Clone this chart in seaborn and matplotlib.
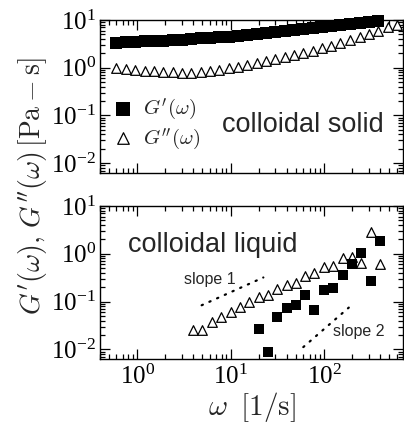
import matplotlib
matplotlib.use("Agg")
import matplotlib.pyplot as plt
import seaborn as sns
import pandas as pd
from matplotlib.ticker import LogLocator, NullFormatter, LogFormatterSciNotation

# ---------------- data ----------------
solid_freq = [0.6, 0.76, 0.95, 1.2, 1.5, 1.9, 2.4, 3.0, 3.8, 4.8, 6.0, 7.6, 9.5,
              12, 15, 19, 24, 30, 38, 48, 60, 76, 95, 120, 150, 190, 240, 300,
              380, 480, 600]
solid_storage = [3.3, 3.4, 3.5, 3.55, 3.6, 3.7, 3.8, 3.9, 4.0, 4.1, 4.2, 4.35,
                 4.45, 4.6, 4.8, 5.0, 5.25, 5.5, 5.75, 6.1, 6.45, 6.75, 7.1,
                 7.4, 7.75, 8.1, 8.5, 8.9, 9.5]
solid_loss = [0.98, 0.93, 0.89, 0.87, 0.85, 0.83, 0.81, 0.79, 0.78, 0.81, 0.87,
              0.91, 0.98, 1.05, 1.12, 1.23, 1.38, 1.55, 1.7, 1.84, 2.0, 2.2,
              2.55, 2.9, 3.3, 3.8, 4.4, 5.1, 5.8, 7.0, 7.8]

liquid_freq_loss = [4.0, 5.0, 6.3, 7.9, 10, 12.6, 15.8, 20, 25, 31.6, 40, 50,
                    63, 79, 100, 126, 158, 200, 251, 316, 398]
liquid_loss = [0.025, 0.026, 0.037, 0.048, 0.06, 0.078, 0.099, 0.126, 0.136,
               0.18, 0.22, 0.25, 0.34, 0.39, 0.52, 0.55, 0.8, 0.86, 0.63, 2.9,
               0.61]
liquid_freq_storage = [20, 25, 31.6, 40, 50, 63, 79, 100, 126, 158, 200, 251,
                       316, 398]
liquid_storage = [0.027, 0.0089, 0.047, 0.072, 0.084, 0.141, 0.068, 0.174,
                  0.197, 0.357, 0.61, 1.05, 0.27, 1.85]

slope1_x = [4.9, 22.4]
slope1_y = [0.084, 0.32]
slope2_x = [60, 184]
slope2_y = [0.0112, 0.075]

legend_labels = [r"$G'(\omega)$", r"$G''(\omega)$"]
panel_titles = ["colloidal solid", "colloidal liquid"]
slope_labels = ["slope 1", "slope 2"]
x_label = r"$\omega\;\;[1/\mathrm{s}]$"
y_label = r"$G'(\omega),\, G''(\omega)\,[\mathrm{Pa}-\mathrm{s}]$"

# ---------------- style ----------------
sns.set_theme(style="ticks")
plt.rcParams["font.family"] = ["Liberation Serif", "DejaVu Serif"]
plt.rcParams["mathtext.fontset"] = "cm"
plt.rcParams["axes.edgecolor"] = "black"
plt.rcParams["axes.linewidth"] = 1.0
plt.rcParams["xtick.color"] = "black"
plt.rcParams["ytick.color"] = "black"

fig = plt.figure(figsize=(4.04, 4.37), dpi=100)
ax1 = fig.add_axes([0.2475, 0.6048, 0.75, 0.3494])
ax2 = fig.add_axes([0.2475, 0.1785, 0.75, 0.3500], sharex=ax1)

band_s = 80
sq_s = 62
tri_s = 48

# top panel
df_sp = pd.DataFrame({"w": solid_freq[:len(solid_storage)], "G": solid_storage})
df_sl = pd.DataFrame({"w": solid_freq, "G": solid_loss})
sns.scatterplot(data=df_sp, x="w", y="G", marker="s", s=band_s, color="black",
                linewidth=0, ax=ax1, label=legend_labels[0], clip_on=False, zorder=3)
sns.scatterplot(data=df_sl, x="w", y="G", marker="^", s=tri_s, color="white",
                edgecolor="black", linewidth=0.9, ax=ax1, label=legend_labels[1],
                clip_on=False, zorder=3)

# bottom panel
df_ll = pd.DataFrame({"w": liquid_freq_loss, "G": liquid_loss})
df_ls = pd.DataFrame({"w": liquid_freq_storage, "G": liquid_storage})
sns.scatterplot(data=df_ll, x="w", y="G", marker="^", s=tri_s, color="white",
                edgecolor="black", linewidth=0.9, ax=ax2, zorder=3)
sns.scatterplot(data=df_ls, x="w", y="G", marker="s", s=sq_s, color="black",
                linewidth=0, ax=ax2, zorder=3)
for sx, sy in ((slope1_x, slope1_y), (slope2_x, slope2_y)):
    sns.lineplot(x=sx, y=sy, ax=ax2, color="black", lw=1.6,
                 linestyle=(0, (0.6, 3.2)), dash_capstyle="round", zorder=2)

for ax in (ax1, ax2):
    ax.set_xscale("log")
    ax.set_yscale("log")
    ax.set_xlim(0.4, 700)
    ax.set_ylim(10 ** -2.2, 10)
    ax.xaxis.set_major_locator(LogLocator(base=10, numticks=10))
    ax.xaxis.set_minor_locator(LogLocator(base=10, subs=range(2, 10), numticks=20))
    ax.yaxis.set_major_locator(LogLocator(base=10, numticks=10))
    ax.yaxis.set_minor_locator(LogLocator(base=10, subs=range(2, 10), numticks=20))
    ax.xaxis.set_minor_formatter(NullFormatter())
    ax.yaxis.set_minor_formatter(NullFormatter())
    ax.yaxis.set_major_formatter(LogFormatterSciNotation())
    ax.tick_params(which="both", direction="in", top=True, right=True,
                   width=0.9, labelsize=18)
    ax.tick_params(which="major", length=7, pad=3)
    ax.tick_params(which="minor", length=3.5)
    ax.set_xlabel("")
    ax.set_ylabel("")
    for sp in ax.spines.values():
        sp.set_visible(True)
        sp.set_color("black")

ax1.tick_params(labelbottom=False)
ax2.tick_params(axis="x", pad=4)
ax2.xaxis.set_major_formatter(LogFormatterSciNotation())

leg = ax1.legend(loc="center left", bbox_to_anchor=(0.04, 0.32), frameon=False,
                 fontsize=15, handlelength=1.0, handletextpad=0.5,
                 borderpad=0, borderaxespad=0, labelspacing=0.2, markerscale=1.2)

ax1.text(0.4016, 0.268, panel_titles[0], transform=ax1.transAxes,
         family="Liberation Sans", fontsize=19.5, ha="left", va="baseline")
ax2.text(0.092, 0.70, panel_titles[1], transform=ax2.transAxes,
         family="Liberation Sans", fontsize=19.5, ha="left", va="baseline")
ax2.text(0.362, 0.523, slope_labels[0], transform=ax2.transAxes,
         family="Liberation Sans", fontsize=11.5, ha="center", va="center")
ax2.text(0.855, 0.183, slope_labels[1], transform=ax2.transAxes,
         family="Liberation Sans", fontsize=11.5, ha="center", va="center")

ax2.set_xlabel(x_label, fontsize=21, labelpad=1)
fig.text(33 / 404, 1 - 186 / 437, y_label, rotation=90, ha="center",
         va="center", fontsize=20)

fig.savefig("out.png", dpi=100)
